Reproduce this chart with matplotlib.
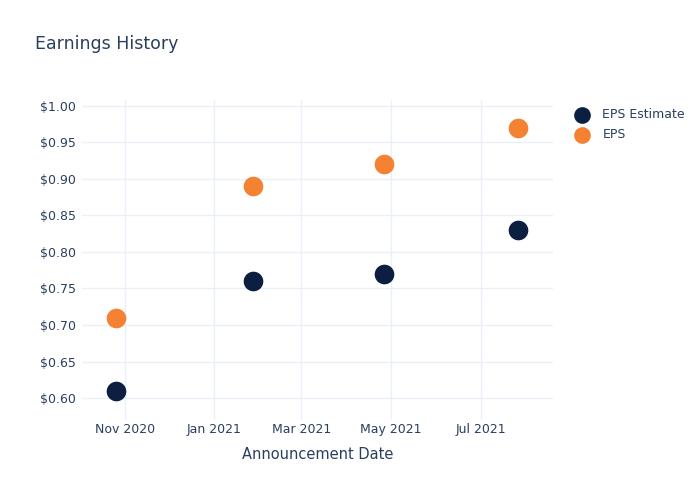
import numpy as np
import pandas as pd
import matplotlib.pyplot as plt
import matplotlib.dates as mdates
from matplotlib.ticker import FuncFormatter

dates = pd.to_datetime(["2020-10-26", "2021-01-27", "2021-04-26", "2021-07-26"])
eps_estimate = [0.61, 0.76, 0.77, 0.83]
eps_actual = [0.71, 0.89, 0.92, 0.97]

text_color = "#2a3f5f"
grid_color = "#ebf0f8"

fig = plt.figure(figsize=(7, 5), dpi=100)
ax = fig.add_axes([0.117, 0.16, 0.673, 0.64])

ax.scatter(dates, eps_estimate, s=200, color="#0c1f40", label="EPS Estimate", zorder=3, linewidths=0)
ax.scatter(dates, eps_actual, s=200, color="#f58233", label="EPS", zorder=3, linewidths=0)

ax.set_xlim(pd.Timestamp("2020-10-03"), pd.Timestamp("2021-08-19"))
ax.set_ylim(0.570, 1.008)
ax.set_yticks(np.arange(0.60, 1.001, 0.05))
ax.yaxis.set_major_formatter(FuncFormatter(lambda v, p: f"${v:.2f}"))
ax.xaxis.set_major_locator(mdates.MonthLocator(bymonth=[1, 3, 5, 7, 9, 11]))
ax.xaxis.set_major_formatter(mdates.DateFormatter("%b %Y"))

for s in ax.spines.values():
    s.set_visible(False)
ax.grid(True, color=grid_color, linewidth=1)
ax.set_axisbelow(True)
ax.tick_params(axis="y", length=0, colors=text_color, labelsize=9, pad=4)
ax.tick_params(axis="x", length=0, colors=text_color, labelsize=9, pad=2)

ax.set_xlabel("Announcement Date", color=text_color, fontsize=10.5, labelpad=8)
fig.text(0.05, 0.912, "Earnings History", color=text_color, fontsize=12.5, va="center")

leg = ax.legend(loc="upper left", bbox_to_anchor=(1.025, 0.99), frameon=False,
                fontsize=9, labelcolor=text_color, handletextpad=0.6,
                labelspacing=0.55, borderaxespad=0, markerscale=0.85)

fig.savefig("out.png", dpi=100, facecolor="white")
